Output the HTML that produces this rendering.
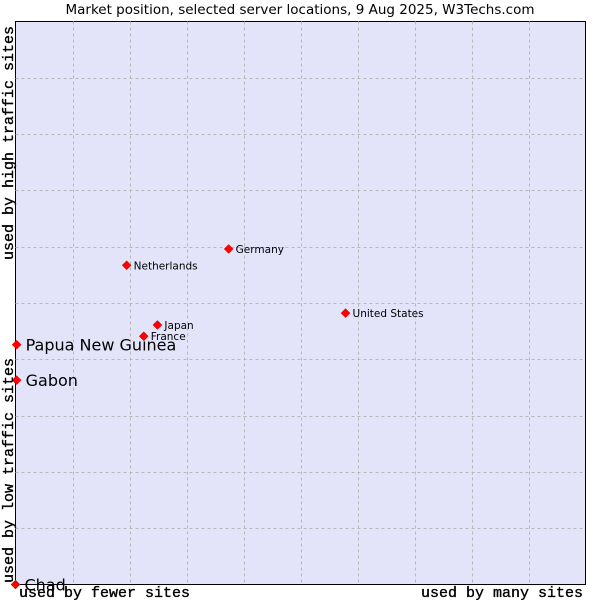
<!DOCTYPE html>
<html><head><meta charset="utf-8"><style>
body{margin:0;background:#fff;width:600px;height:600px;overflow:hidden}
svg text{font-family:"DejaVu Sans","Liberation Sans",sans-serif}
.mono{font-family:"Liberation Mono","DejaVu Sans Mono",monospace !important;stroke:#000;stroke-width:0.35}
</style></head><body>
<svg width="600" height="600">
<text x="300" y="14" font-size="13.5" text-anchor="middle">Market position, selected server locations, 9 Aug 2025, W3Techs.com</text>
<rect x="15.5" y="21.5" width="570" height="563" fill="#e3e4f9" stroke="#000"/>
<g id="grid"></g>
<g id="pts"></g>
<text class="mono" x="583" y="597" font-size="15" text-anchor="end">used by many sites</text>
<text class="mono" x="19" y="597" font-size="15">used by fewer sites</text>
<text class="mono" transform="translate(13,583) rotate(-90)" font-size="15">used by low traffic sites</text>
<text class="mono" transform="translate(13,260) rotate(-90)" font-size="15">used by high traffic sites</text>
</svg>
<script>
const names=["Chad","Papua New Guinea","Gabon","Netherlands","Germany","Japan","France","United States"];
const xVals=[0,0.2,0.2,19.5,37.4,24.9,22.5,57.9];
const yVals=[0,42.6,36.3,56.7,59.6,46.1,44.1,48.2];
const bigLabel=[true,true,true,false,false,false,false,false];
const X0=15.5,X1=585.5,Y0=584.5,Y1=21.5;
const sx=v=>X0+v/100*(X1-X0), sy=v=>Y0-v/100*(Y0-Y1);
const NS="http://www.w3.org/2000/svg";
const g=document.getElementById('grid');
for(let i=1;i<10;i++){
 let l=document.createElementNS(NS,'line');
 
 
 let x=Math.round(sx(i*10))+0.5;
 l.setAttribute('x1',x);l.setAttribute('x2',x);l.setAttribute('y1',Y1);l.setAttribute('y2',Y0);
 l.setAttribute('stroke','#b8b8b8');l.setAttribute('stroke-dasharray','3,3');g.appendChild(l);
 let h=document.createElementNS(NS,'line');
 
 
 let y=Math.round(sy(i*10))+0.5;
 h.setAttribute('x1',X0);h.setAttribute('x2',X1);h.setAttribute('y1',y);h.setAttribute('y2',y);
 h.setAttribute('stroke','#b8b8b8');h.setAttribute('stroke-dasharray','3,3');g.appendChild(h);
}
const p=document.getElementById('pts');
names.forEach((n,i)=>{
 const x=sx(xVals[i]),y=sy(yVals[i]);
 let d=document.createElementNS(NS,'polygon');
 
 
 d.setAttribute('points',`${x},${y-4.5} ${x+4.5},${y} ${x},${y+4.5} ${x-4.5},${y}`);
 d.setAttribute('fill','#f00');d.setAttribute('stroke','#c00');d.setAttribute('stroke-width','0.5');p.appendChild(d);
 let t=document.createElementNS(NS,'text');
 
 
 if(bigLabel[i]){t.setAttribute('font-size','16');t.setAttribute('x',x+9);t.setAttribute('y',y+6);}
 else{t.setAttribute('font-size','10.5');t.setAttribute('x',x+7);t.setAttribute('y',y+4);}
 t.textContent=n;p.appendChild(t);
});
</script>
</body></html>
